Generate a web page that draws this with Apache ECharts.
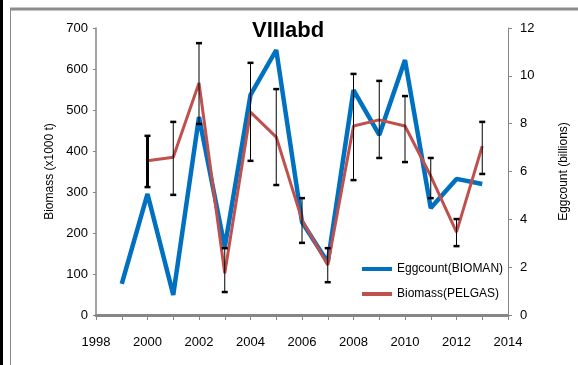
<!DOCTYPE html>
<html><head><meta charset="utf-8">
<script src="https://cdn.jsdelivr.net/npm/echarts@6/dist/echarts.min.js"></script>
<style>html,body{margin:0;padding:0;background:#fff}#c{width:578px;height:365px}</style>
</head><body><div id="c"></div>
<script>
const eggYears = [1999,2000,2001,2002,2003,2004,2005,2006,2007,2008,2009,2010,2011,2012,2013];
const eggCount = [1.3,5.06,0.84,8.28,2.84,9.2,11.08,3.89,2.2,9.4,7.53,10.66,4.47,5.69,5.48];
const bioYears = [2000,2001,2002,2003,2004,2005,2006,2007,2008,2009,2010,2011,2012,2013];
const biomass  = [376,385,566,102,495,434,232,122,461,476,461,339,202,412];
const bioLow   = [312,293,466,56,376,317,176,80,329,383,373,285,168,344];
const bioHigh  = [437,471,663,163,615,551,285,163,588,571,534,383,234,471];
const leftTicks = {min:0, max:700, interval:100};
const rightTicks = {min:0, max:12, interval:2};
const xTicks = {min:1998, max:2014, interval:2};

const chart = echarts.init(document.getElementById('c'));
const font = 'Liberation Sans';
const axisGray = '#868686';
chart.setOption({
  animation:false,
  title:{text:'VIIIabd', left:247, top:15, textStyle:{fontFamily:font, fontSize:22, fontWeight:'bold', color:'#000'}},
  legend:{orient:'vertical', left:357, top:258, itemGap:13, itemWidth:30, itemHeight:4, icon:'rect',
    textStyle:{fontFamily:font, fontSize:12, color:'#000'},
    data:['Eggcount(BIOMAN)','Biomass(PELGAS)']},
  grid:{left:96, right:60, top:28, bottom:50},
  xAxis:{type:'value', min:xTicks.min, max:xTicks.max, interval:xTicks.interval,
    axisLine:{lineStyle:{color:axisGray, width:3}},
    axisTick:{show:true, length:5, lineStyle:{color:axisGray, width:1}},
    minorTick:{show:true, splitNumber:2, length:5, lineStyle:{color:axisGray, width:1}},
    splitLine:{show:false},
    axisLabel:{fontFamily:font, fontSize:13, color:'#000', margin:21, formatter:v=>String(v)}},
  yAxis:[
    {type:'value', min:leftTicks.min, max:leftTicks.max, interval:leftTicks.interval,
     name:'Biomass (x1000 t)', nameLocation:'middle', nameGap:40, nameRotate:90,
     nameTextStyle:{fontFamily:font, fontSize:12, color:'#000'},
     axisLine:{show:true, lineStyle:{color:axisGray, width:1.5}},
     axisTick:{show:true, length:3, lineStyle:{color:axisGray}},
     splitLine:{show:false},
     axisLabel:{fontFamily:font, fontSize:13, color:'#000', margin:8}},
    {type:'value', min:rightTicks.min, max:rightTicks.max, interval:rightTicks.interval, position:'right',
     name:'Eggcount (billions)', nameLocation:'middle', nameGap:50, nameRotate:90,
     nameTextStyle:{fontFamily:font, fontSize:12, color:'#000'},
     axisLine:{show:true, lineStyle:{color:axisGray, width:1}},
     axisTick:{show:true, length:4, lineStyle:{color:axisGray}},
     splitLine:{show:false},
     axisLabel:{fontFamily:font, fontSize:13, color:'#000', margin:12}}
  ],
  series:[
    {name:'Eggcount(BIOMAN)', type:'line', yAxisIndex:1, symbol:'none',
     data:eggYears.map((y,i)=>[y,eggCount[i]]),
     lineStyle:{color:'#0070C0', width:4.5}, itemStyle:{color:'#0070C0'}, z:2},
    {name:'Biomass(PELGAS)', type:'line', yAxisIndex:0, symbol:'none',
     data:bioYears.map((y,i)=>[y,biomass[i]]),
     lineStyle:{color:'#C0504D', width:3}, itemStyle:{color:'#C0504D'}, z:3},
    {type:'custom', yAxisIndex:0, z:4,
     data:bioYears.map((y,i)=>[y,bioLow[i],bioHigh[i]]),
     renderItem:function(params, api){
       const lo = api.coord([api.value(0), api.value(1)]);
       const hi = api.coord([api.value(0), api.value(2)]);
       const w = params.dataIndex===0 ? 3 : 1;
       const cw = 3;
       return {type:'group', children:[
         {type:'line', shape:{x1:lo[0], y1:lo[1], x2:hi[0], y2:hi[1]}, style:{stroke:'#000', lineWidth:w}},
         {type:'line', shape:{x1:lo[0]-cw, y1:lo[1], x2:lo[0]+cw, y2:lo[1]}, style:{stroke:'#000', lineWidth:2.5}},
         {type:'line', shape:{x1:hi[0]-cw, y1:hi[1], x2:hi[0]+cw, y2:hi[1]}, style:{stroke:'#000', lineWidth:2.5}}
       ]};
     }}
  ],
  graphic:[
    {type:'rect', shape:{x:0, y:0, width:3, height:365}, style:{fill:'#000'}},
    {type:'line', shape:{x1:10, y1:9, x2:578, y2:9}, style:{stroke:'#8c8c8c', lineWidth:3}},
    {type:'line', shape:{x1:10.5, y1:9, x2:10.5, y2:365}, style:{stroke:'#8c8c8c', lineWidth:1}}
  ]
});
</script></body></html>
